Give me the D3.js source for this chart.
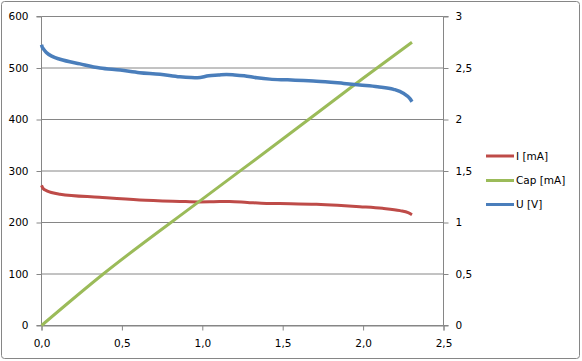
<!DOCTYPE html>
<html>
<head>
<meta charset="utf-8">
<script src="https://cdn.jsdelivr.net/npm/d3@7"></script>
<style>
  html, body { margin: 0; padding: 0; background: #fff; }
  svg { display: block; }
  text { font-family: "DejaVu Sans", Verdana, sans-serif; font-size: 10.5px; fill: #000; }
</style>
</head>
<body>
<svg id="chart" width="582" height="361"></svg>
<script>
// ---- Data ----
const xTicks = [0, 0.5, 1.0, 1.5, 2.0, 2.5];
const xTickLabels = ["0,0", "0,5", "1,0", "1,5", "2,0", "2,5"];
const leftTicks = [0, 100, 200, 300, 400, 500, 600];
const leftTickLabels = ["0", "100", "200", "300", "400", "500", "600"];
const rightTicks = [0, 0.5, 1, 1.5, 2, 2.5, 3];
const rightTickLabels = ["0", "0,5", "1", "1,5", "2", "2,5", "3"];
const seriesNames = ["I [mA]", "Cap [mA]", "U [V]"];

// I [mA] (left axis): [time, value]
const seriesI = [
  [0.0, 272], [0.01, 266], [0.03, 262], [0.115, 255], [0.36, 249], [0.61, 243.7],
  [0.86, 241], [0.98, 240], [1.07, 240.4], [1.17, 241], [1.28, 239], [1.4, 237],
  [1.55, 236.5], [1.71, 235.3], [1.84, 233.4], [1.98, 230.7], [2.12, 227.5],
  [2.23, 223], [2.28, 219], [2.304, 215]
];
// Cap (left axis)
const seriesCap = [
  [0.0, 0], [0.384, 100], [0.973, 239], [1.5, 362], [2.0, 480], [2.304, 550]
];
// U [V] (right axis)
const seriesU = [
  [0.0, 2.725], [0.005, 2.70], [0.012, 2.685], [0.03, 2.65], [0.07, 2.61], [0.115, 2.585],
  [0.24, 2.54], [0.364, 2.50], [0.49, 2.48], [0.61, 2.455], [0.737, 2.44],
  [0.86, 2.415], [0.93, 2.407], [0.97, 2.405], [1.04, 2.425], [1.1, 2.432], [1.15, 2.438],
  [1.2, 2.433], [1.26, 2.424], [1.34, 2.405], [1.42, 2.392], [1.53, 2.385],
  [1.63, 2.3775], [1.71, 2.3725], [1.88, 2.35], [1.98, 2.335], [2.09, 2.3185],
  [2.19, 2.293], [2.25, 2.255], [2.29, 2.205], [2.304, 2.173]
];

// ---- Layout ----
const svg = d3.select("#chart");
const x = d3.scaleLinear().domain([0, 2.5]).range([41.5, 443.5]);
const yL = d3.scaleLinear().domain([0, 600]).range([325.5, 16.5]);
const yR = d3.scaleLinear().domain([0, 3]).range([325.5, 16.5]);
const gridColor = "#868686";
const colors = ["#BE4B48", "#9BBB59", "#4A7EBB"];

// outer border
svg.append("rect").attr("x", 1.5).attr("y", 1.5).attr("width", 578).attr("height", 357)
  .attr("rx", 3).attr("fill", "#fff").attr("stroke", gridColor).attr("stroke-width", 1);

// gridlines
svg.append("g").selectAll("line").data(leftTicks).join("line")
  .attr("x1", x(0)).attr("x2", x(2.5))
  .attr("y1", d => yL(d)).attr("y2", d => yL(d))
  .attr("stroke", gridColor).attr("stroke-width", 1);

// axes
const leftAxis = d3.axisLeft(yL).tickValues(leftTicks).tickSize(5).tickPadding(8)
  .tickFormat((d, i) => leftTickLabels[i]);
const rightAxis = d3.axisRight(yR).tickValues(rightTicks).tickSize(5).tickPadding(7)
  .tickFormat((d, i) => rightTickLabels[i]);
const bottomAxis = d3.axisBottom(x).tickValues(xTicks).tickSize(5).tickPadding(9)
  .tickFormat((d, i) => xTickLabels[i]);

function styleAxis(g) {
  g.select(".domain").attr("stroke", gridColor);
  g.selectAll(".tick line").attr("stroke", gridColor);
  g.selectAll(".tick text").attr("fill", "#000")
    .style("font-family", '"DejaVu Sans", Verdana, sans-serif').style("font-size", "10.5px");
}
svg.append("g").attr("transform", `translate(${x(0)},0)`).call(leftAxis).call(styleAxis)
  .call(g => g.select(".domain").attr("d", `M-5,${yL(600)}H0V${yL(0)}H-5`));
svg.append("g").attr("transform", `translate(${x(2.5)},0)`).call(rightAxis).call(styleAxis)
  .call(g => g.select(".domain").attr("d", `M5,${yR(3)}H0V${yR(0)}H5`));
svg.append("g").attr("transform", `translate(0,${yL(0)})`).call(bottomAxis).call(styleAxis);

// lines
const lineL = d3.line().x(d => x(d[0])).y(d => yL(d[1])).curve(d3.curveMonotoneX);
const lineR = d3.line().x(d => x(d[0])).y(d => yR(d[1])).curve(d3.curveMonotoneX);
svg.append("path").datum(seriesI).attr("d", lineL).attr("fill", "none")
  .attr("stroke", colors[0]).attr("stroke-width", 3).attr("stroke-linejoin", "round");
svg.append("path").datum(seriesCap).attr("d", lineL).attr("fill", "none")
  .attr("stroke", colors[1]).attr("stroke-width", 3).attr("stroke-linejoin", "round");
svg.append("path").datum(seriesU).attr("d", lineR).attr("fill", "none")
  .attr("stroke", colors[2]).attr("stroke-width", 3.5).attr("stroke-linejoin", "round");

// legend
const legendY = [156, 180.5, 204.5];
const lg = svg.append("g");
seriesNames.forEach((name, i) => {
  lg.append("line").attr("x1", 486).attr("x2", 514).attr("y1", legendY[i]).attr("y2", legendY[i])
    .attr("stroke", colors[i]).attr("stroke-width", 3);
  lg.append("text").attr("x", 516).attr("y", legendY[i]).attr("dy", "0.35em").text(name);
});
</script>
</body>
</html>
